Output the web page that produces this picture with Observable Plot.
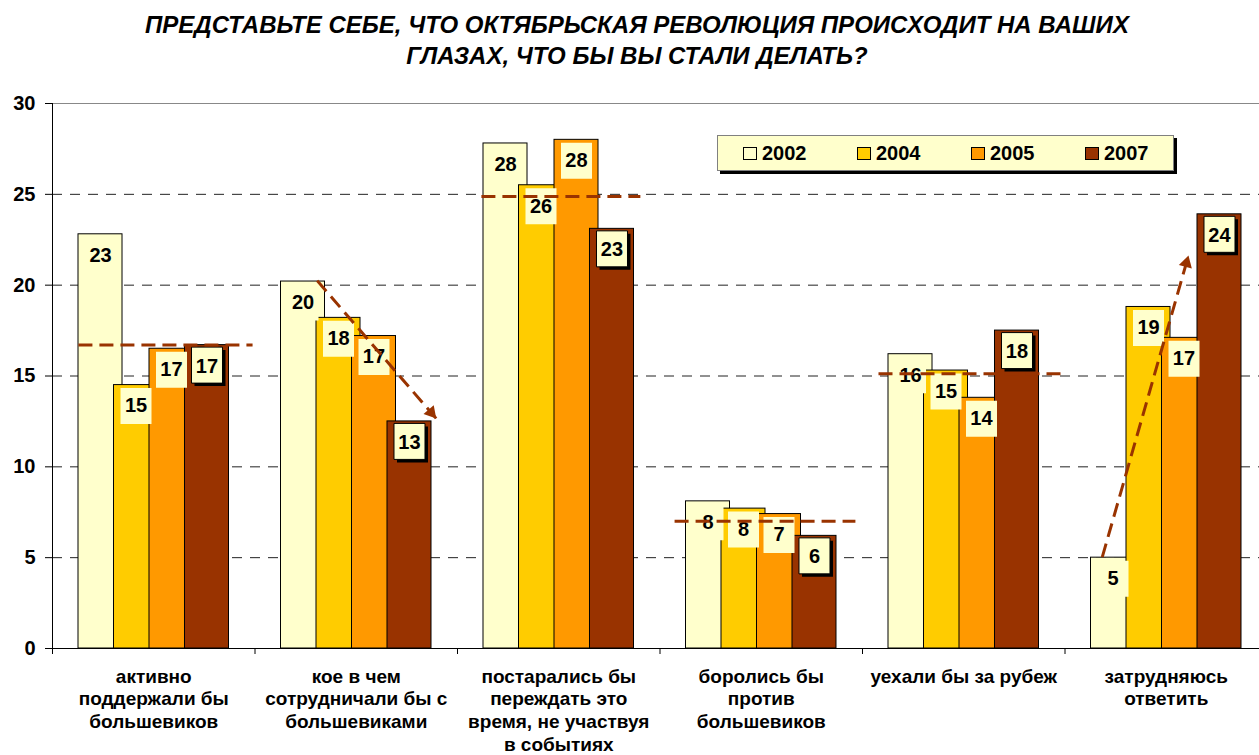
<!DOCTYPE html>
<html><head><meta charset="utf-8">
<script src="https://cdn.jsdelivr.net/npm/d3@7"></script>
<script src="https://cdn.jsdelivr.net/npm/@observablehq/plot@0.6"></script>
<style>
html,body{margin:0;padding:0;background:#fff;overflow:hidden;}
body{width:1259px;height:755px;position:relative;font-family:"Liberation Sans",Arial,sans-serif;color:#000;}
#title{height:80px;box-sizing:border-box;padding-top:9px;padding-left:15px;text-align:center;font-weight:bold;font-style:italic;font-size:24px;line-height:31px;white-space:nowrap;}
#legend{position:absolute;left:717px;top:135px;width:457px;height:36px;box-sizing:border-box;background:#FFFFCC;border:1px solid #808080;box-shadow:3px 3px 0 #000;}
.sw{position:absolute;top:11px;width:14px;height:13px;box-sizing:border-box;border:1px solid #000;}
.lt{position:absolute;top:0;line-height:34px;font-weight:bold;font-size:20px;}
</style></head><body>
<div id="title">ПРЕДСТАВЬТЕ СЕБЕ, ЧТО ОКТЯБРЬСКАЯ РЕВОЛЮЦИЯ ПРОИСХОДИТ НА ВАШИХ<br>ГЛАЗАХ, ЧТО БЫ ВЫ СТАЛИ ДЕЛАТЬ?</div>
<div id="chart"></div>
<div id="legend"></div>
<script>
const categories = [
  "активно\nподдержали бы\nбольшевиков",
  "кое в чем\nсотрудничали бы с\nбольшевиками",
  "постарались бы\nпереждать это\nвремя, не участвуя\nв событиях",
  "боролись бы\nпротив\nбольшевиков",
  "уехали бы за рубеж",
  "затрудняюсь\nответить"
];
const years = ["2002", "2004", "2005", "2007"];
const colors = ["#FFFFCC", "#FFCC00", "#FF9900", "#993300"];
const v2002 = [22.8, 20.2, 27.8, 8.1, 16.2, 5.0];
const v2004 = [14.5, 18.2, 25.5, 7.7, 15.3, 18.8];
const v2005 = [16.5, 17.2, 28.0, 7.4, 13.8, 17.1];
const v2007 = [16.7, 12.5, 23.1, 6.2, 17.5, 23.9];
const yTicks = [0, 5, 10, 15, 20, 25, 30];
// trend lines (category index, start/end position within category, start/end value)
const trendCat = [0, 1, 2, 3, 4, 5];
const trendFrom = [-0.372, -0.193, -0.382, -0.428, -0.421, -0.316];
const trendTo = [0.488, 0.395, 0.403, 0.465, 0.478, 0.110];
const trendY1 = [16.7, 20.25, 24.88, 7.0, 15.12, 5.03];
const trendY2 = [16.7, 12.66, 24.88, 7.0, 15.12, 21.63];
const trendArrow = [false, true, false, false, false, true];

// layout
const W = 1259, H = 675, mL = 52, mT = 23, mB = 107;
const xRange = [52, 1267];
const pxX = (xRange[1] - xRange[0]) / 6;
const pxY = (H - mT - mB) / 30;
const barW = 0.2173, barStep = 0.1753, groupHalf = 0.3716;

const series = [v2002, v2004, v2005, v2007];
const rows = [];
categories.forEach((c, i) => {
  years.forEach((y, j) => {
    const x1 = i - groupHalf + j * barStep;
    rows.push({cat: i, year: y, value: series[j][i], x1, x2: x1 + barW, xc: x1 + barW / 2});
  });
});
const trends = trendCat.map((c, k) => ({
  x1: c + trendFrom[k], x2: c + trendTo[k], y1: trendY1[k], y2: trendY2[k], arrow: trendArrow[k]
}));

const boxSym = {draw(ctx) { ctx.rect(-15.5, -18, 31, 36); }};
const triR = 5;
const triTip = 2 * Math.sqrt(Math.PI * triR * triR / (3 * Math.sqrt(3)));
const arrowMarks = trends.filter(t => t.arrow).map(t => {
  const dxp = (t.x2 - t.x1) * pxX, dyp = -(t.y2 - t.y1) * pxY;
  const len = Math.hypot(dxp, dyp);
  const ang = Math.atan2(dxp, -dyp) * 180 / Math.PI;
  return Plot.dot([t], {x: "x2", y: "y2", symbol: "triangle", r: triR, fill: "#993300",
    rotate: ang, dx: -dxp / len * triTip, dy: -dyp / len * triTip});
});

const bounds = d3.range(7).map(i => i - 0.5);

const plot = Plot.plot({
  width: W, height: H,
  marginLeft: mL, marginRight: 0, marginTop: mT, marginBottom: mB,
  style: {fontFamily: "'Liberation Sans', Arial, sans-serif", fontWeight: "bold", fontSize: "20px", color: "#000", background: "#fff"},
  x: {domain: [-0.5, 5.5], range: xRange, axis: null},
  y: {domain: [0, 30], ticks: yTicks, tickSize: 7, tickPadding: 10, label: null},
  color: {domain: years, range: colors},
  marks: [
    Plot.ruleY([5, 10, 15, 20, 25], {stroke: "#222", strokeDasharray: "10,8"}),
    Plot.ruleY([30], {stroke: "#888"}),
    Plot.rect(rows, {x1: "x1", x2: "x2", y1: () => 0, y2: "value", fill: "year", stroke: "#000", strokeWidth: 1}),
    Plot.dot(rows.filter(d => d.year === "2007"), {x: "xc", y: "value", dx: 3, dy: 23, symbol: boxSym, fill: "#000"}),
    Plot.dot(rows.filter(d => d.year !== "2007"), {x: "xc", y: "value", dy: 21, symbol: boxSym, fill: "#FFFFCC"}),
    Plot.dot(rows.filter(d => d.year === "2007"), {x: "xc", y: "value", dy: 20, symbol: boxSym, fill: "#FFFFCC", stroke: "#000", strokeWidth: 1}),
    Plot.text(rows, {x: "xc", y: "value", dy: 21, text: d => String(Math.round(d.value)), fontSize: 20, fontWeight: "bold", fill: "#000"}),
    Plot.link(trends, {x1: "x1", y1: "y1", x2: "x2", y2: "y2", stroke: "#993300", strokeWidth: 3, strokeDasharray: "14,7"}),
    ...arrowMarks,
    Plot.ruleX([-0.5], {y1: () => 0, y2: () => 30, stroke: "#000"}),
    Plot.ruleY([0], {stroke: "#000"}),
    Plot.ruleX(bounds, {y1: () => 0, y2: () => 0, insetBottom: -6, stroke: "#000"}),
    Plot.text(categories, {x: (d, i) => i, y: () => 0, text: d => d, lineAnchor: "top", dy: 18, lineHeight: 1.2, fontSize: 19, fontWeight: "bold", fill: "#000"})
  ]
});
document.getElementById("chart").appendChild(plot);

const lg = document.getElementById("legend");
years.forEach((y, k) => {
  const sw = document.createElement("div");
  sw.className = "sw"; sw.style.left = (25 + 114 * k) + "px"; sw.style.background = colors[k];
  lg.appendChild(sw);
  const t = document.createElement("div");
  t.className = "lt"; t.style.left = (44 + 114 * k) + "px"; t.textContent = y;
  lg.appendChild(t);
});
</script>
</body></html>
